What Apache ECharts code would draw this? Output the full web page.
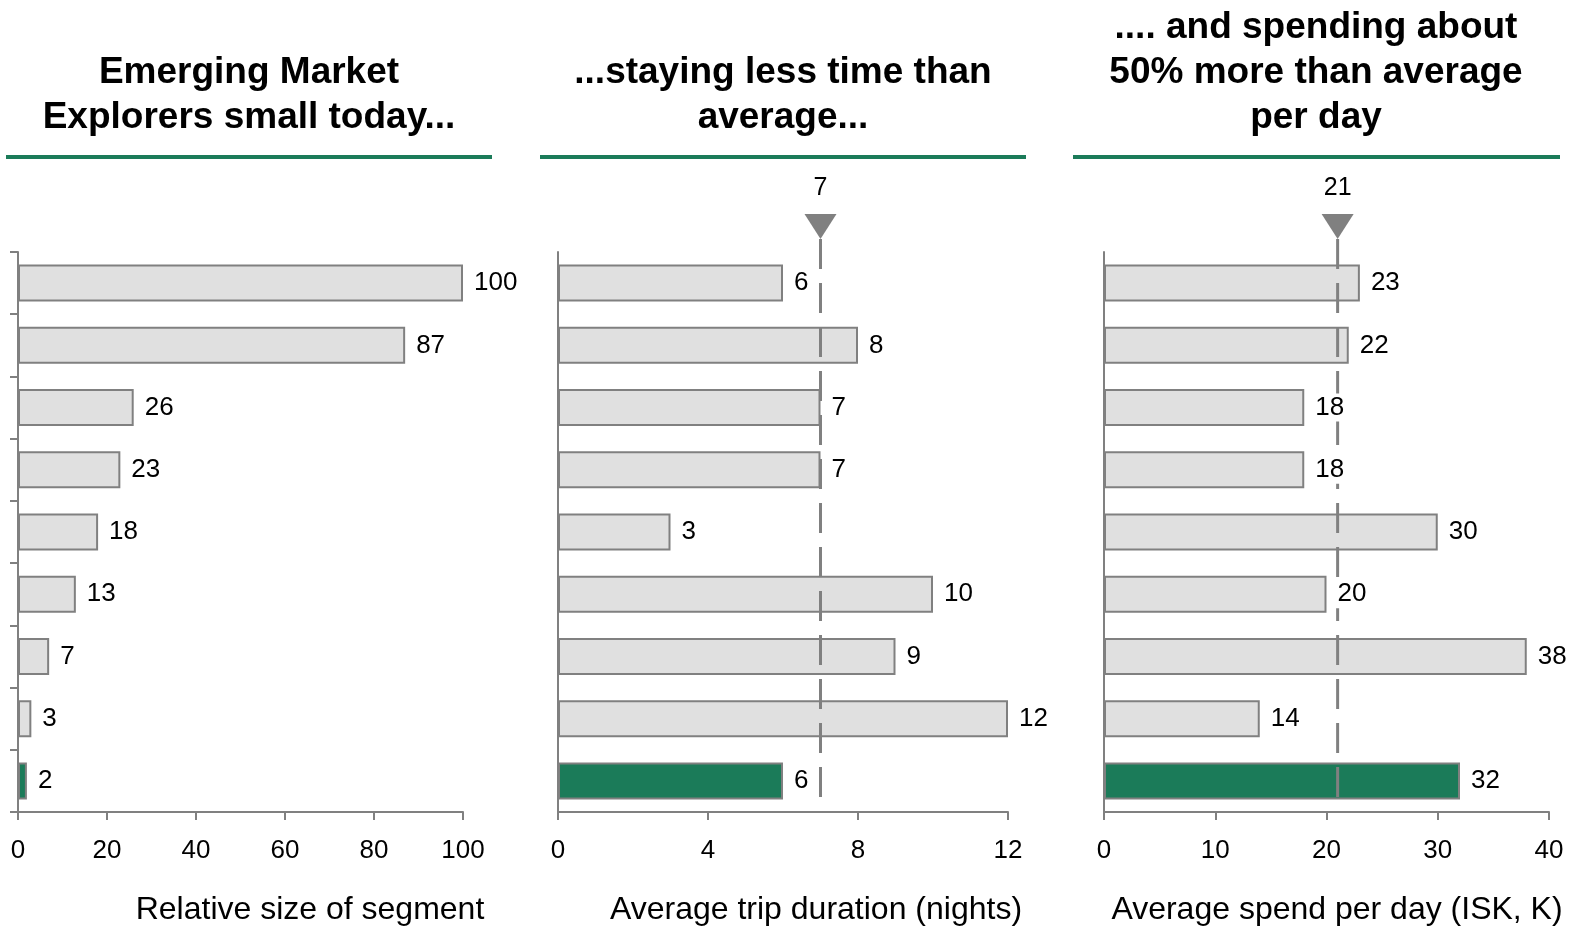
<!DOCTYPE html>
<html>
<head>
<meta charset="utf-8">
<title>Emerging Market Explorers</title>
<script src="https://cdn.jsdelivr.net/npm/echarts@6/dist/echarts.min.js"></script>
<style>
  html, body { margin: 0; padding: 0; background: #fff; }
  #chart { width: 1582px; height: 937px; }
</style>
</head>
<body>
<div id="chart"></div>
<script>
// Segments, top to bottom; the last one is the highlighted segment
const segments = ['S1', 'S2', 'S3', 'S4', 'S5', 'S6', 'S7', 'S8', 'Emerging Market Explorers'];

// Relative size of each segment
const segmentSize = [100, 87, 26, 23, 18, 13, 7, 3, 2];
// Average trip duration, nights
const tripNights = [6, 8, 7, 7, 3, 10, 9, 12, 6];
// Average spend per day, ISK thousands
const spendPerDay = [23, 22, 18, 18, 30, 20, 38, 14, 32];

// Averages across all segments
const avgNights = 7;
const avgSpend = 21;

// Axis ranges and tick steps
const sizeAxis = { min: 0, max: 100, interval: 20 };
const nightsAxis = { min: 0, max: 12, interval: 4 };
const spendAxis = { min: 0, max: 40, interval: 10 };

const panelTitles = [
  'Emerging Market\nExplorers small today...',
  '...staying less time than\naverage...',
  '.... and spending about\n50% more than average\nper day'
];
const axisTitles = [
  'Relative size of segment',
  'Average trip duration (nights)',
  'Average spend per day (ISK, K)'
];

const FONT = "Arial, 'Liberation Sans', sans-serif";
const GREEN = '#1b7b59';
const GREY = '#808080';
const FILL = '#e0e0e0';

// Panel geometry
const panels = [
  { left: 18,   width: 445, titleX: 249,  rule: [6, 486],    nameShift: 139, yTicks: true },
  { left: 558,  width: 450, titleX: 783,  rule: [540, 486],  nameShift: 66,  yTicks: false },
  { left: 1104, width: 445, titleX: 1316, rule: [1073, 487], nameShift: 21,  yTicks: false }
];
const GRID_TOP = 252;
const GRID_BOTTOM = 937 - 812;
const REF_TOP = 239;

const values = [segmentSize, tripNights, spendPerDay];
const ranges = [sizeAxis, nightsAxis, spendAxis];

const chart = echarts.init(document.getElementById('chart'), null, { renderer: 'canvas' });

const grid = [];
const xAxis = [];
const yAxis = [];
const series = [];

panels.forEach((p, i) => {
  grid.push({
    left: p.left, width: p.width, top: GRID_TOP, bottom: GRID_BOTTOM,
    containLabel: false, outerBoundsMode: 'none'
  });
  xAxis.push({
    type: 'value', gridIndex: i,
    min: ranges[i].min, max: ranges[i].max, interval: ranges[i].interval,
    splitLine: { show: false },
    axisLine: { show: true, lineStyle: { color: GREY, width: 2 } },
    axisTick: { show: true, length: 8, lineStyle: { color: GREY, width: 2 } },
    axisLabel: { color: '#000', fontSize: 26, fontFamily: FONT, margin: 26 },
    name: axisTitles[i],
    nameLocation: 'middle',
    nameGap: 80,
    nameMoveOverlap: false,
    nameTextStyle: {
      color: '#000', fontSize: 32, fontFamily: FONT,
      verticalAlign: 'top', lineHeight: 36,
      padding: [0, 0, 0, p.nameShift]
    }
  });
  yAxis.push({
    type: 'category', gridIndex: i, data: segments, inverse: true,
    axisLine: { show: true, lineStyle: { color: GREY, width: 2 } },
    axisTick: { show: p.yTicks, length: 8, lineStyle: { color: GREY, width: 2 } },
    axisLabel: { show: false },
    splitLine: { show: false }
  });

  // Bars
  series.push({
    type: 'bar', xAxisIndex: i, yAxisIndex: i, z: 2,
    barWidth: 37, barGap: '-100%',
    data: values[i].map((v, k) => ({
      value: v,
      itemStyle: { color: k === segments.length - 1 ? GREEN : FILL }
    })),
    itemStyle: { borderColor: GREY, borderWidth: 2 },
    label: { show: false },
    silent: true
  });
  // Value labels, kept above the average line
  series.push({
    type: 'bar', xAxisIndex: i, yAxisIndex: i, z: 4,
    barWidth: 37, barGap: '-100%',
    data: values[i],
    itemStyle: { color: 'rgba(0,0,0,0)', borderWidth: 0 },
    label: {
      show: true, position: 'right', distance: 9,
      color: '#000', fontSize: 26, fontFamily: FONT,
      backgroundColor: '#fff', padding: [1, 2]
    },
    silent: true
  });
});

// Average reference lines (panels 2 and 3) on overlay grids
const refs = [
  { panel: 1, value: avgNights, range: nightsAxis },
  { panel: 2, value: avgSpend, range: spendAxis }
];
refs.forEach((r, j) => {
  const gi = panels.length + j;
  const p = panels[r.panel];
  grid.push({
    left: p.left, width: p.width, top: REF_TOP, bottom: GRID_BOTTOM,
    containLabel: false, outerBoundsMode: 'none'
  });
  xAxis.push({ type: 'value', gridIndex: gi, min: r.range.min, max: r.range.max, show: false });
  yAxis.push({ type: 'value', gridIndex: gi, min: 0, max: 1, show: false });
  series.push({
    type: 'line', xAxisIndex: gi, yAxisIndex: gi, z: 3,
    data: [[r.value, 1], [r.value, 0]],
    symbol: 'none',
    lineStyle: { color: GREY, width: 3, type: [30, 14] },
    silent: true
  });
  series.push({
    type: 'scatter', xAxisIndex: gi, yAxisIndex: gi, z: 3,
    data: [[r.value, 1]],
    symbol: 'path://M0,0L32,0L16,25Z',
    symbolSize: [32, 25],
    symbolOffset: [0, -12.5],
    itemStyle: { color: GREY, opacity: 1 },
    label: {
      show: true, position: 'top', distance: 13,
      formatter: (d) => String(d.value[0]),
      color: '#000', fontSize: 25, fontFamily: FONT
    },
    silent: true
  });
});

const title = panels.map((p, i) => ({
  text: panelTitles[i],
  left: p.titleX,
  bottom: 797,
  textAlign: 'center',
  padding: 0,
  textStyle: {
    color: '#000', fontSize: 37, fontWeight: 'bold',
    fontFamily: FONT, lineHeight: 45
  }
}));

// Green rules under the panel headings
const graphic = panels.map((p) => ({
  type: 'rect',
  shape: { x: p.rule[0], y: 155, width: p.rule[1], height: 4 },
  style: { fill: GREEN },
  silent: true
}));

chart.setOption({
  animation: false,
  backgroundColor: '#fff',
  textStyle: { fontFamily: FONT },
  title,
  graphic,
  grid,
  xAxis,
  yAxis,
  series
});
</script>
</body>
</html>
